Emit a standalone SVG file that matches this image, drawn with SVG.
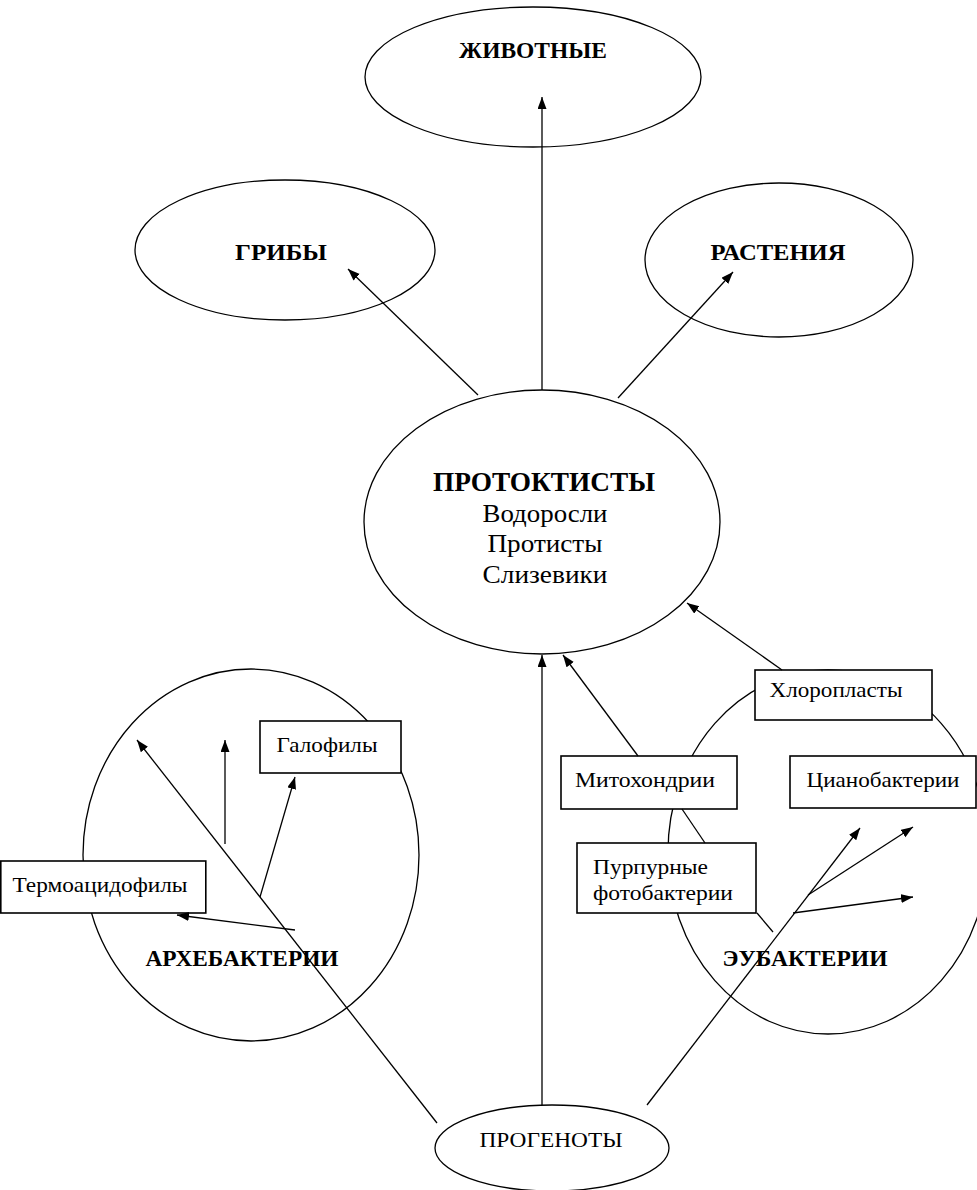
<svg xmlns="http://www.w3.org/2000/svg" width="977" height="1190" viewBox="0 0 977 1190">
<style>
.e{fill:none;stroke:#000;stroke-width:1.3}
.r{fill:#fff;stroke:#000;stroke-width:1.6}
.c{stroke:#000;stroke-width:1.3;fill:none}
.a{marker-end:url(#ah)}
text{font-family:"Liberation Serif","Times New Roman",serif;fill:#000}
.b{font-weight:bold;font-size:23px;text-anchor:middle}
.t{font-size:22px;text-anchor:middle}
.tl{font-size:22px}
</style>
<defs>
<marker id="ah" markerUnits="userSpaceOnUse" markerWidth="13" markerHeight="10" refX="12" refY="4.5" orient="auto">
<path d="M0,0 L12,4.5 L0,9 Z" fill="#000"/>
</marker>
</defs>
<rect width="977" height="1190" fill="#fff"/>
<g id="animals"><ellipse class="e" cx="533" cy="77" rx="168" ry="70"/><text class="b" x="533" y="58" textLength="148" lengthAdjust="spacingAndGlyphs">ЖИВОТНЫЕ</text></g>
<g id="fungi"><ellipse class="e" cx="285" cy="250" rx="150" ry="70"/><text class="b" x="281" y="260" textLength="92" lengthAdjust="spacingAndGlyphs">ГРИБЫ</text></g>
<g id="plants"><ellipse class="e" cx="779" cy="260" rx="134" ry="77"/><text class="b" x="778" y="260" textLength="135" lengthAdjust="spacingAndGlyphs">РАСТЕНИЯ</text></g>
<g id="protoctista"><ellipse class="e" cx="542" cy="522" rx="178" ry="132"/>
<text class="b" x="544" y="491" style="font-size:28px" textLength="222" lengthAdjust="spacingAndGlyphs">ПРОТОКТИСТЫ</text>
<text class="t" x="545" y="522" style="font-size:25px" textLength="125" lengthAdjust="spacingAndGlyphs">Водоросли</text>
<text class="t" x="545" y="552" style="font-size:25px" textLength="115" lengthAdjust="spacingAndGlyphs">Протисты</text>
<text class="t" x="545" y="583" style="font-size:25px" textLength="125" lengthAdjust="spacingAndGlyphs">Слизевики</text></g>
<g id="archaebacteria"><ellipse class="e" cx="251" cy="855" rx="168" ry="186"/><text class="b" x="242" y="966" textLength="193" lengthAdjust="spacingAndGlyphs">АРХЕБАКТЕРИИ</text></g>
<g id="eubacteria"><ellipse class="e" cx="828" cy="852" rx="160" ry="182"/><text class="b" x="805" y="966" textLength="165" lengthAdjust="spacingAndGlyphs">ЭУБАКТЕРИИ</text></g>
<g id="progenotes"><ellipse class="e" cx="552" cy="1148" rx="117" ry="43"/><text class="t" x="551" y="1147" textLength="143" lengthAdjust="spacingAndGlyphs">ПРОГЕНОТЫ</text></g>
<g id="halophiles"><rect class="r" x="260" y="721" width="141" height="52"/><text class="t" x="327" y="752" textLength="101" lengthAdjust="spacingAndGlyphs">Галофилы</text></g>
<g id="thermoacidophiles"><rect class="r" x="0.8" y="861" width="205" height="52"/><text class="t" x="100" y="892" textLength="175" lengthAdjust="spacingAndGlyphs">Термоацидофилы</text></g>
<g id="chloroplasts"><rect class="r" x="755" y="670" width="177" height="50"/><text class="t" x="836" y="697" textLength="133" lengthAdjust="spacingAndGlyphs">Хлоропласты</text></g>
<g id="mitochondria"><rect class="r" x="561" y="756" width="176" height="53"/><text class="t" x="645" y="787" textLength="140" lengthAdjust="spacingAndGlyphs">Митохондрии</text></g>
<g id="cyanobacteria"><rect class="r" x="790" y="756" width="186" height="52"/><text class="t" x="883" y="787" textLength="153" lengthAdjust="spacingAndGlyphs">Цианобактерии</text></g>
<g id="purple"><rect class="r" x="577" y="843" width="179" height="70"/><text class="tl" x="593" y="874" textLength="115" lengthAdjust="spacingAndGlyphs">Пурпурные</text><text class="tl" x="593" y="900" textLength="140" lengthAdjust="spacingAndGlyphs">фотобактерии</text></g>
<g id="connectors">
<line class="c a" x1="542" y1="390" x2="542" y2="97"/>
<line class="c a" x1="478" y1="395" x2="348" y2="269"/>
<line class="c a" x1="618" y1="398" x2="733" y2="272"/>
<line class="c a" x1="542" y1="1105" x2="542" y2="655"/>
<line class="c a" x1="638" y1="756" x2="563" y2="655"/>
<line class="c a" x1="782" y1="670" x2="687" y2="603"/>
<line class="c" x1="682" y1="809" x2="705" y2="843"/>
<line class="c" x1="757" y1="913" x2="773" y2="932"/>
<line class="c a" x1="647" y1="1105" x2="860" y2="828"/>
<line class="c a" x1="808" y1="895" x2="913" y2="827"/>
<line class="c a" x1="793" y1="913" x2="913" y2="897"/>
<line class="c a" x1="437" y1="1123" x2="137" y2="740"/>
<line class="c a" x1="225" y1="844" x2="225" y2="740"/>
<line class="c a" x1="260" y1="897" x2="295" y2="777"/>
<line class="c a" x1="295" y1="930" x2="177" y2="915"/>
</g>
</svg>
